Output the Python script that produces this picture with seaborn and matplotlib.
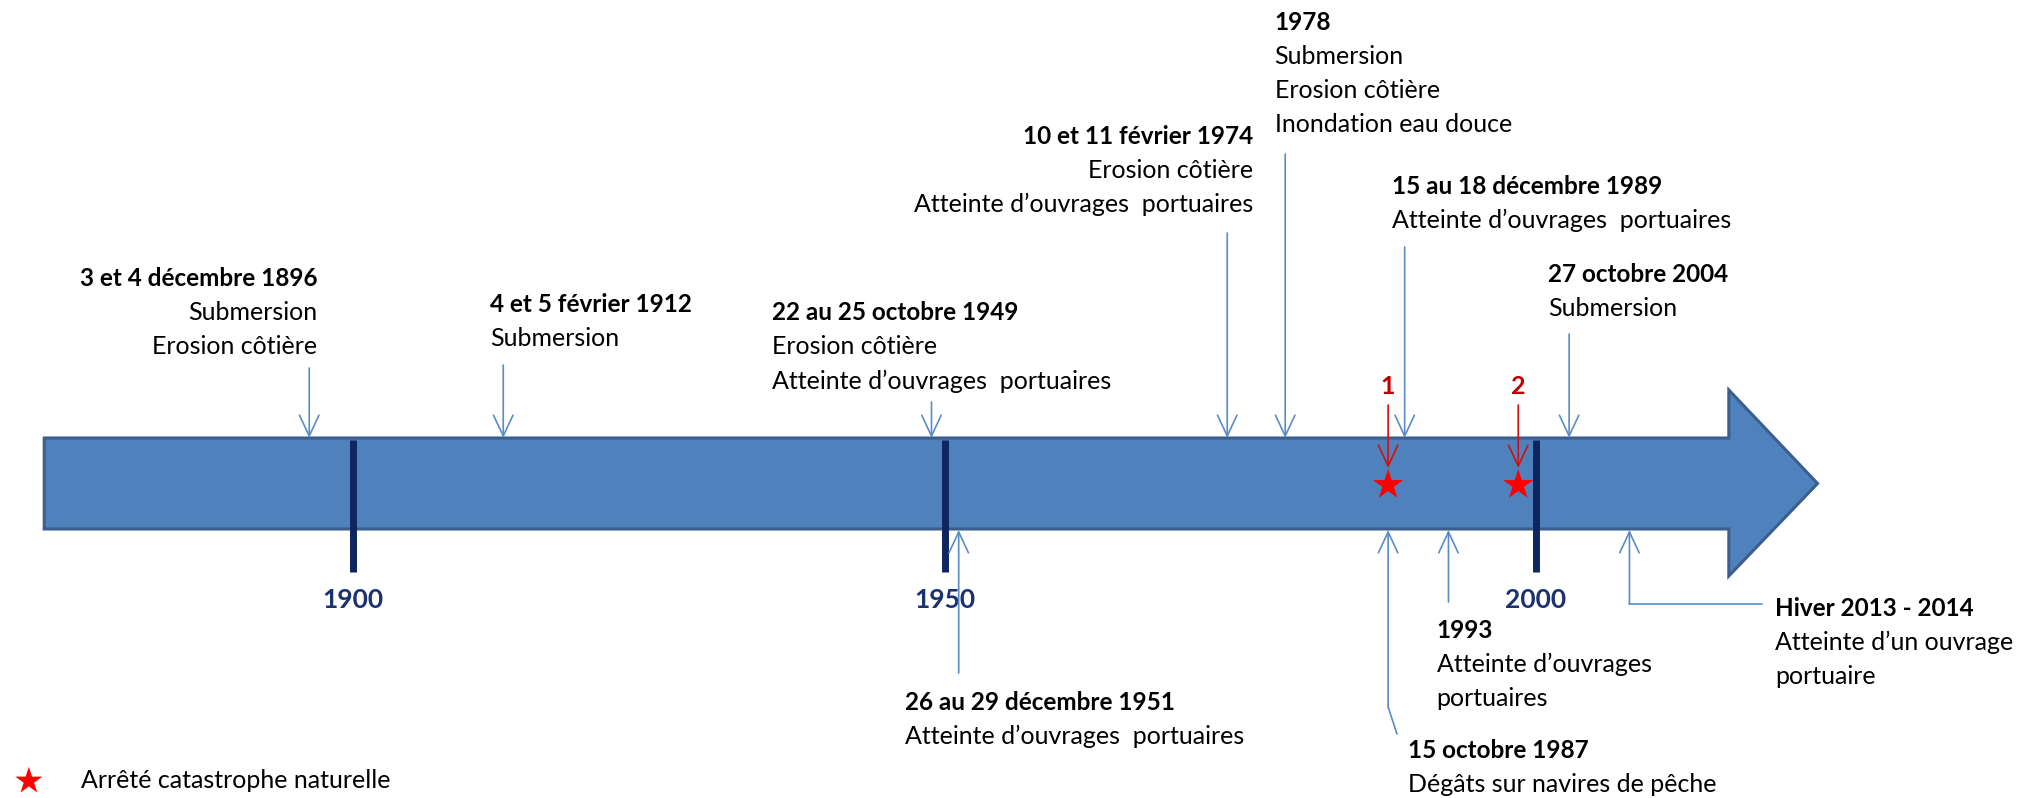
import matplotlib
matplotlib.use("Agg")
import numpy as np
import seaborn as sns
from matplotlib import pyplot as plt
from matplotlib.patches import Polygon

# timeline data
TIMELINE_START = 1873.9
TIMELINE_BODY_END = 2016.3
TIMELINE_TIP = 2023.8
DECADE_MARKS = [1900, 1950, 2000]

# events pointing down onto the timeline (from above)
top_years = [1896.3, 1912.7, 1948.9, 1973.9, 1978.8, 1988.9, 2002.8]
top_titles = ["3 et 4 décembre 1896", "4 et 5 février 1912", "22 au 25 octobre 1949",
              "10 et 11 février 1974", "1978", "15 au 18 décembre 1989", "27 octobre 2004"]
top_details = [["Submersion", "Erosion côtière"],
               ["Submersion"],
               ["Erosion côtière", "Atteinte d\u2019ouvrages  portuaires"],
               ["Erosion côtière", "Atteinte d\u2019ouvrages  portuaires"],
               ["Submersion", "Erosion côtière", "Inondation eau douce"],
               ["Atteinte d\u2019ouvrages  portuaires"],
               ["Submersion"]]

# events pointing up onto the timeline (from below)
bottom_years = [1951.2, 1987.5, 1992.6, 2007.9]
bottom_titles = ["26 au 29 décembre 1951", "15 octobre 1987", "1993", "Hiver 2013 - 2014"]
bottom_details = [["Atteinte d\u2019ouvrages  portuaires"],
                  ["Dégâts sur navires de pêche"],
                  ["Atteinte d\u2019ouvrages", "portuaires"],
                  ["Atteinte d\u2019un ouvrage", "portuaire"]]

# arretes catastrophe naturelle
catnat_years = [1987.5, 1998.5]
catnat_labels = ["1", "2"]
legend_label = "Arrêté catastrophe naturelle"

# layout (x in years, y in pixels from top)
top_text_x = [1897.0, 1911.6, 1935.4, 1976.1, 1977.9, 1987.8, 2001.0]
top_text_ha = ["right", "left", "left", "right", "left", "left", "left"]
top_text_y = [278, 305, 313, 136, 22, 186, 274]
top_arrow_y0 = [368, 365, 402, 233, 154, 247, 334]
bottom_text_x = [1946.7, 1989.2, 1991.6, 2020.2]
bottom_text_y = [702, 751, 630, 608]
bottom_arrow_y0 = [673, 707, 602, 604]
LINE_STEP = 34
BAR_TOP, BAR_BOT = 438, 529
HEAD_TOP, HEAD_BOT = 390, 576

BAR_FILL = "#4F81BD"
BAR_EDGE = "#3B5E8C"
ARROW_C = "#5B8CC8"
NAVY = "#0E2660"
RED = "#FF0000"

sns.set_theme(style="white")
plt.rcParams['font.family'] = ['Lato', 'DejaVu Sans']
FS = 18
FS_TITLE = 17.5

fig = plt.figure(figsize=(20.38, 7.98), dpi=100)
ax = fig.add_axes([0, 0, 1, 1])
px_per_year = 11.83
ax.set_xlim(1900 - 353 / px_per_year, 1900 + (2038 - 353) / px_per_year)
ax.set_ylim(798, 0)
ax.axis('off')

# big arrow
mid = (BAR_TOP + BAR_BOT) / 2
shape = [(TIMELINE_START, BAR_TOP), (TIMELINE_BODY_END, BAR_TOP), (TIMELINE_BODY_END, HEAD_TOP),
         (TIMELINE_TIP, mid), (TIMELINE_BODY_END, HEAD_BOT), (TIMELINE_BODY_END, BAR_BOT),
         (TIMELINE_START, BAR_BOT)]
ax.add_patch(Polygon(shape, closed=True, facecolor=BAR_FILL, edgecolor=BAR_EDGE, lw=2.2, zorder=1))

# decade marks
ax.vlines(DECADE_MARKS, BAR_TOP + 2, 572, color=NAVY, lw=5, zorder=3)
for yr in DECADE_MARKS:
    ax.text(yr, 600, str(yr), ha='center', va='center', fontsize=19, fontweight='bold', color='#1C326E')

arrow_kw = dict(arrowstyle='->,head_length=0.75,head_width=0.35', color=ARROW_C, lw=1.2,
                shrinkA=0, shrinkB=0, mutation_scale=20)


def draw_block(x, y, title, details, ha):
    ax.text(x, y, title, ha=ha, va='center', fontsize=FS_TITLE, fontweight='bold', color='black')
    for i, line in enumerate(details):
        ax.text(x, y + LINE_STEP * (i + 1), line, ha=ha, va='center', fontsize=FS, color='black')


for yr, title, det, tx, ty, ha, y0 in zip(top_years, top_titles, top_details, top_text_x,
                                         top_text_y, top_text_ha, top_arrow_y0):
    ax.annotate('', xy=(yr, BAR_TOP), xytext=(yr, y0), arrowprops=arrow_kw, zorder=4)
    draw_block(tx, ty, title, det, ha)

for i, (yr, title, det, tx, ty, y0) in enumerate(zip(bottom_years, bottom_titles, bottom_details,
                                                   bottom_text_x, bottom_text_y, bottom_arrow_y0)):
    ax.annotate('', xy=(yr, BAR_BOT + 1), xytext=(yr, y0), arrowprops=arrow_kw, zorder=4)
    if title.startswith("15 octobre"):
        ax.plot([yr, yr + 0.75], [y0, y0 + 27], color=ARROW_C, lw=1.2)
    if title.startswith("Hiver"):
        ax.plot([yr, tx - 1.1], [y0, y0], color=ARROW_C, lw=1.2)
    draw_block(tx, ty, title, det, 'left')

# catnat stars
sns.scatterplot(x=catnat_years, y=[485] * len(catnat_years), marker='*', s=520, color=RED,
                edgecolor='none', ax=ax, zorder=6, legend=False)
for yr, lab in zip(catnat_years, catnat_labels):
    ax.annotate('', xy=(yr, 468), xytext=(yr, 405),
                arrowprops=dict(arrowstyle='->,head_length=0.75,head_width=0.35', color='#D01010',
                                lw=1.2, shrinkA=0, shrinkB=0, mutation_scale=20), zorder=5)
    ax.text(yr, 386, lab, ha='center', va='center', fontsize=FS, fontweight='bold', color='#C00000')

# legend
sns.scatterplot(x=[1872.6], y=[781], marker='*', s=420, color=RED, edgecolor='none', ax=ax,
                legend=False)
ax.text(1877.0, 781, legend_label, ha='left', va='center', fontsize=FS, color='black')

plt.savefig("out.png", dpi=100)
